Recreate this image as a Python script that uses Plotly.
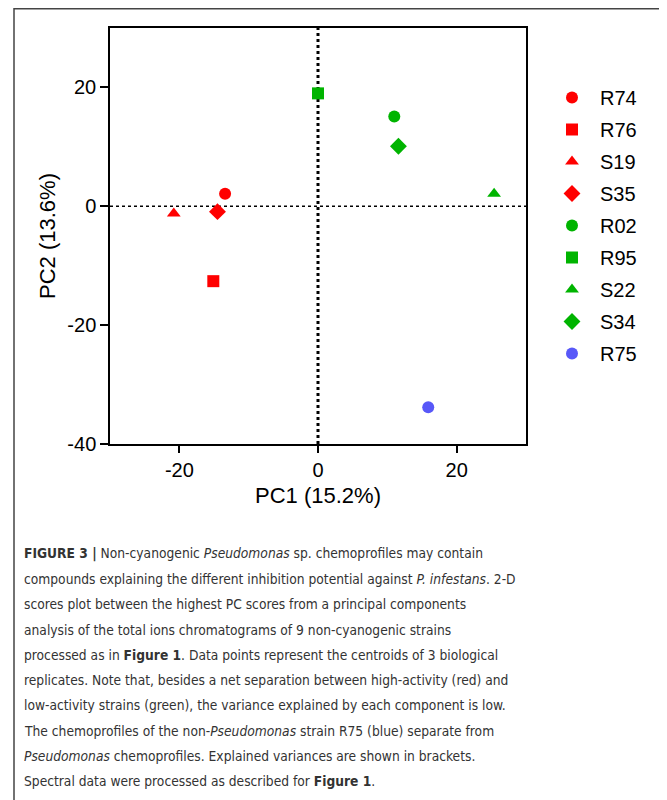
import plotly.graph_objects as go

# ---- data ----
strains = ["R74", "R76", "S19", "S35", "R02", "R95", "S22", "S34", "R75"]
pc1 = [-13.4, -15.1, -20.8, -14.5, 11.0, 0.0, 25.4, 11.6, 15.9]
pc2 = [2.1, -12.6, -1.2, -0.9, 15.1, 19.0, 2.1, 10.1, -33.8]
symbols = ["circle", "square", "triangle-up", "diamond",
           "circle", "square", "triangle-up", "diamond", "circle"]
colors = ["#FF0000"] * 4 + ["#00B400"] * 4 + ["#5858F8"]
x_ticks = [-20, 0, 20]
x_ticktext = ["-20", "0", "20"]
y_ticks = [-40, -20, 0, 20]
y_ticktext = ["-40", "-20", "0", "20"]

caption_lines = [
    "<b>FIGURE 3 |</b> Non-cyanogenic <i>Pseudomonas</i> sp. chemoprofiles may contain",
    "compounds explaining the different inhibition potential against <i>P. infestans</i>. 2-D",
    "scores plot between the highest PC scores from a principal components",
    "analysis of the total ions chromatograms of 9 non-cyanogenic strains",
    "processed as in <b>Figure 1</b>. Data points represent the centroids of 3 biological",
    "replicates. Note that, besides a net separation between high-activity (red) and",
    "low-activity strains (green), the variance explained by each component is low.",
    "The chemoprofiles of the non-<i>Pseudomonas</i> strain R75 (blue) separate from",
    "<i>Pseudomonas</i> chemoprofiles. Explained variances are shown in brackets.",
    "Spectral data were processed as described for <b>Figure 1</b>.",
]
caption_y_px = [553, 579, 604, 630, 655, 680, 705, 731, 756, 781]

OFF = 8  # page body margin
W, H = 667 - OFF, 800 - OFF
# plot area in screen px
L, R, T, B = 110, 526, 28, 444
pw, ph = R - L, B - T

def px2paper_x(x):
    return (x - L) / pw

def px2paper_y(y):
    return (B - y) / ph

fig = go.Figure()
sizes = {"circle": 12, "square": 12, "triangle-up": 12, "diamond": 13}
for i, s in enumerate(strains):
    fig.add_trace(go.Scatter(
        x=[pc1[i]], y=[pc2[i]], mode="markers", name=s,
        legendgroup=s,
        marker=dict(symbol=symbols[i], color=colors[i], size=sizes[symbols[i]],
                    line=dict(width=0)),
    ))

font = "Liberation Sans, Arial, Helvetica, sans-serif"

shapes = [
    dict(type="line", xref="x", yref="paper", x0=0, x1=0, y0=0, y1=1,
         line=dict(color="black", width=3, dash="dot"), layer="below"),
    dict(type="line", xref="paper", yref="y", x0=0, x1=1, y0=0, y1=0,
         line=dict(color="black", width=1.5, dash="dot"), layer="below"),
    dict(type="rect", xref="paper", yref="paper",
         x0=px2paper_x(14), x1=px2paper_x(700), y0=px2paper_y(830), y1=px2paper_y(8.7),
         line=dict(color="#444444", width=1.5)),
]

annotations = []
for line, yp in zip(caption_lines, caption_y_px):
    annotations.append(dict(
        text=line, xref="paper", yref="paper", x=px2paper_x(22), y=px2paper_y(yp),
        xanchor="left", yanchor="middle", showarrow=False,
        font=dict(family="DejaVu Sans Condensed, DejaVu Sans, sans-serif",
                  size=13.7, color="#333333"),
    ))

fig.update_layout(
    width=W, height=H,
    margin=dict(l=L - OFF, r=W - (R - OFF), t=T - OFF, b=H - (B - OFF), autoexpand=False),
    paper_bgcolor="white", plot_bgcolor="white",
    font=dict(family=font, color="black", size=20),
    showlegend=True,
    legend=dict(x=px2paper_x(544), y=px2paper_y(78), xanchor="left", yanchor="top",
                font=dict(size=20, family=font), tracegroupgap=3,
                itemwidth=46, bgcolor="rgba(0,0,0,0)"),
    xaxis=dict(range=[-30, 30], tickvals=x_ticks, ticktext=x_ticktext,
               ticks="outside", ticklen=7,
               tickwidth=1.5, tickcolor="black", showgrid=False, zeroline=False,
               showline=True, linecolor="black", linewidth=1.5, mirror=True,
               title=dict(text="PC1 (15.2%)", font=dict(size=22), standoff=8),
               tickfont=dict(size=20)),
    yaxis=dict(range=[-40, 30], tickvals=y_ticks, ticktext=y_ticktext,
               ticks="outside", ticklen=8,
               tickwidth=1.5, tickcolor="black", showgrid=False, zeroline=False,
               showline=True, linecolor="black", linewidth=1.5, mirror=True,
               title=dict(text="PC2 (13.6%)", font=dict(size=22), standoff=6),
               tickfont=dict(size=20)),
    shapes=shapes,
    annotations=annotations,
)

fig.write_html("out.html")
